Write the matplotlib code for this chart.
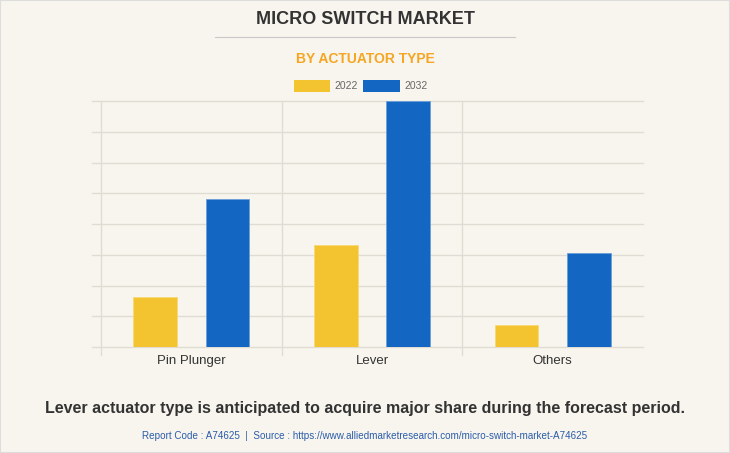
import matplotlib.pyplot as plt
import numpy as np

categories = ['Pin Plunger', 'Lever', 'Others']
years = ['2022', '2032']
values_2022 = [1.63, 3.32, 0.72]
values_2032 = [4.81, 8.0, 3.06]

bg = '#f8f5ee'
yellow = '#f4c430'
blue = '#1366c2'

fig = plt.figure(figsize=(7.30, 4.53), dpi=100, facecolor=bg)
W, H = 730, 453
ax = fig.add_axes([101 / W, 1 - 347 / H, 542 / W, 246 / H])
ax.set_facecolor(bg)

x = np.arange(len(categories))
ax.bar(x - 0.2, values_2022, width=0.243, color=yellow, edgecolor='#f7d977', linewidth=0.6, zorder=3)
ax.bar(x + 0.2, values_2032, width=0.243, color=blue, edgecolor='#6a9fd8', linewidth=0.6, zorder=3)

ax.set_xlim(-0.5, 2.5)
ax.set_ylim(0, 8)

# grid lines, horizontal ones reach a little left of the axes
for v in range(0, 9):
    ax.plot([-0.55, 2.5], [v, v], color='#e0dcd4', lw=1, clip_on=False, zorder=1)
for v in [-0.5, 0.5, 1.5]:
    ax.plot([v, v], [-0.25, 8], color='#e0dcd4', lw=1, clip_on=False, zorder=1)

for s in ax.spines.values():
    s.set_visible(False)
ax.set_yticks([])
ax.set_xticks(x)
ax.set_xticklabels(categories, fontsize=9.5, color='#333333', family='Liberation Sans')
ax.tick_params(axis='x', length=0, pad=6)

# titles
fig.text(365 / W, 1 - 20 / H, 'MICRO SWITCH MARKET', ha='center', va='center',
         fontsize=13, fontweight='bold', color='#333333', family='Liberation Sans')
fig.add_artist(plt.Line2D([215 / W, 515 / W], [1 - 37 / H, 1 - 37 / H], color='#c8c8c8', lw=0.8))
fig.text(365 / W, 1 - 59 / H, 'BY ACTUATOR TYPE', ha='center', va='center',
         fontsize=10, fontweight='bold', color='#f5a623', family='Liberation Sans')

# legend
for (x0, x1), col, lab in zip([(294, 330), (363, 400)], [yellow, blue], years):
    fig.patches.append(plt.Rectangle((x0 / W, 1 - 92 / H), (x1 - x0) / W, 12 / H,
                                     transform=fig.transFigure, facecolor=col, edgecolor='none'))
    fig.text((x1 + 4) / W, 1 - 86 / H, lab, ha='left', va='center', fontsize=7.5,
             color='#666666', family='Liberation Sans')

fig.text(365 / W, 1 - 409 / H,
         'Lever actuator type is anticipated to acquire major share during the forecast period.',
         ha='center', va='center', fontsize=11.5, fontweight='bold', color='#333333',
         family='Liberation Sans')
fig.text(365 / W, 1 - 436 / H,
         'Report Code : A74625  |  Source : https://www.alliedmarketresearch.com/micro-switch-market-A74625',
         ha='center', va='center', fontsize=7.1, color='#2a5caa', family='Liberation Sans')

fig.patches.append(plt.Rectangle((0, 0), 1, 1, transform=fig.transFigure, fill=False,
                                 edgecolor='#dddddd', lw=1.5))

fig.savefig('out.png', dpi=100, facecolor=bg)
